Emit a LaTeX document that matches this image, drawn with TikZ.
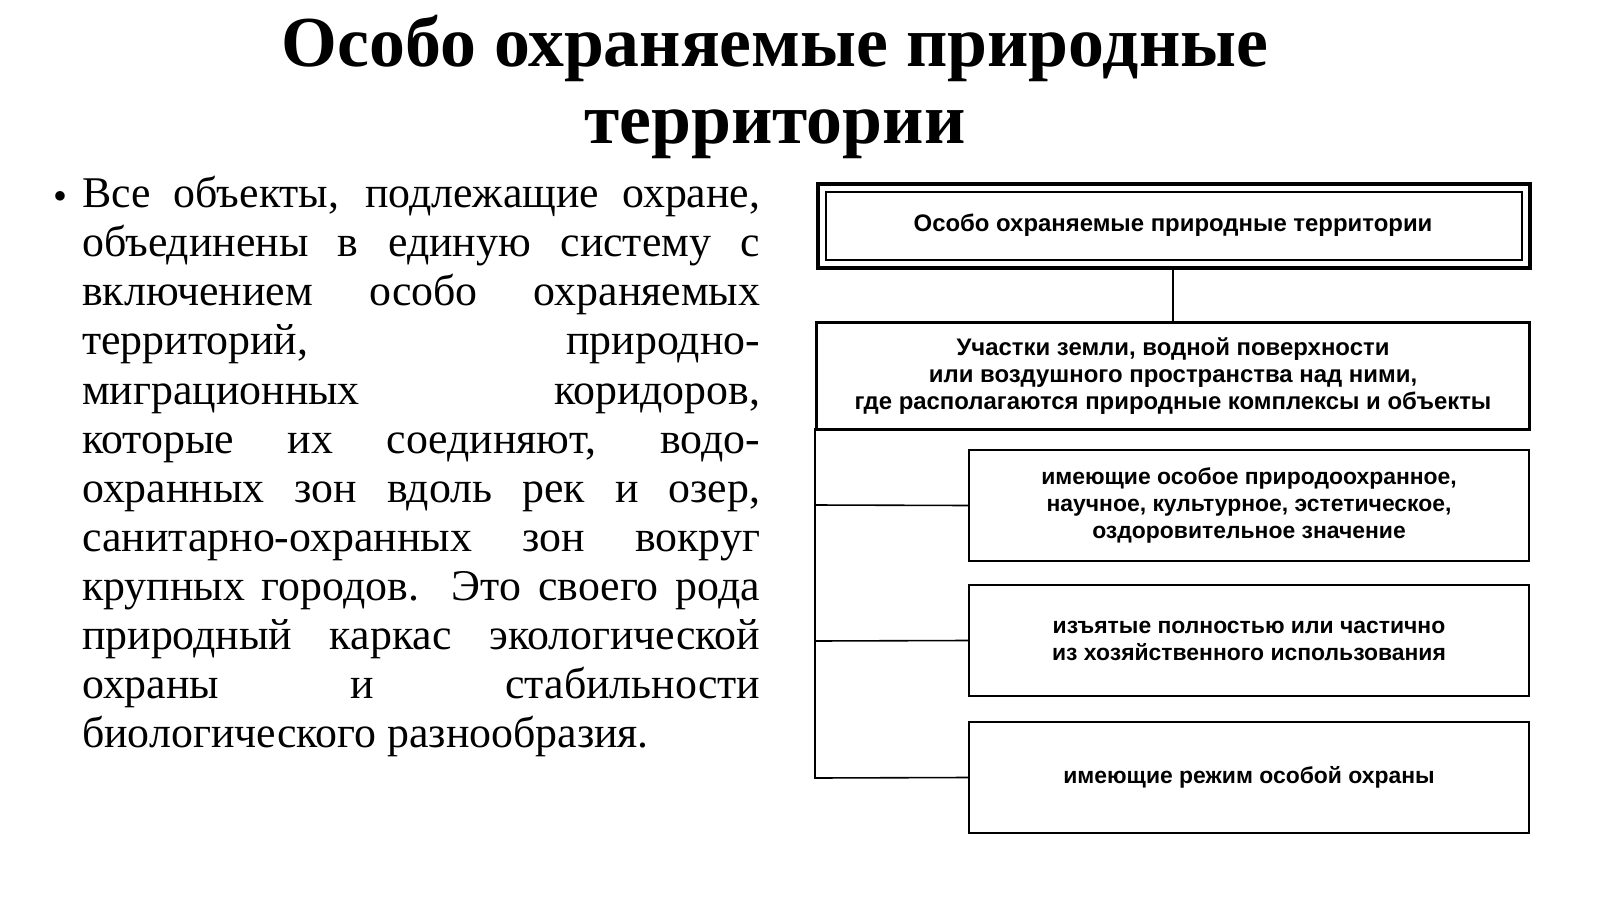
\documentclass[tikz,border=0pt]{standalone}
\usepackage{fontspec}
\setmainfont{Liberation Serif}
\newfontfamily\dsans{Liberation Sans}
\begin{document}%
\begin{tikzpicture}[x=1bp,y=-1bp,
  lbl/.style={font=\dsans\bfseries\fontsize{24}{27}\selectfont,align=center},
  ln/.style={line width=1.6pt}]%
\useasboundingbox (0,0) rectangle (1600,899);
\fill[white] (0,0) rectangle (1600,899);
\node[font=\bfseries\fontsize{72}{78}\selectfont,align=center] (title) at (775,87) {Особо охраняемые природные\\территории};
\node[anchor=north west,inner sep=0pt,font=\fontsize{44}{49.3}\selectfont] (txt) at (82,176)
 {\parbox{678bp}{Все объекты, подлежащие охране,\linebreak объединены в единую систему с\linebreak включением особо охраняемых\linebreak территорий, природно-\linebreak миграционных коридоров,\linebreak которые их соединяют, водо-\linebreak охранных зон вдоль рек и озер,\linebreak санитарно-охранных зон вокруг\linebreak крупных городов. Это своего рода\linebreak природный каркас экологической\linebreak охраны и стабильности\linebreak биологического разнообразия.}};
\node[font=\fontsize{40}{40}\selectfont] (bul) at (60,201) {•};
\draw[line width=4pt] (818,184) rectangle (1530,268);
\draw[line width=2pt] (826,192) rectangle (1522,260);
\node[lbl] (t0) at (1173,225) {Особо охраняемые природные территории};
\coordinate (t0b) at (1173,268);
\node[draw,line width=3pt,anchor=north west,minimum width=713bp,minimum height=107bp,inner sep=0pt] (b2) at (815,321) {};
\node[lbl] at (b2.center) {Участки земли, водной поверхности\\или воздушного пространства над ними,\\где располагаются природные комплексы и объекты};
\draw[ln] (t0b) -- (b2.north);
\foreach \n/\y/\t in {b3/449/{имеющие особое природоохранное,\\научное, культурное, эстетическое,\\оздоровительное значение},
  b4/584/{изъятые полностью или частично\\из хозяйственного использования},
  b5/721/{имеющие режим особой охраны}}{
  \node[draw,line width=2pt,anchor=north west,minimum width=560bp,minimum height=111bp,inner sep=0pt] (\n) at (968,\y) {};
  \node[lbl,font=\dsans\fontsize{23}{27}\selectfont\bfseries] at (\n.center) {\t};
}
\coordinate (l0) at (815,428);
\coordinate (l3) at (815,505);
\coordinate (l4) at (815,641);
\coordinate (l5) at (815,778);
\draw[ln] (l0) -- (l5) -- (b5.west);
\draw[ln] (l3) -- (b3.west);
\draw[ln] (l4) -- (b4.west);
\end{tikzpicture}%
\end{document}
